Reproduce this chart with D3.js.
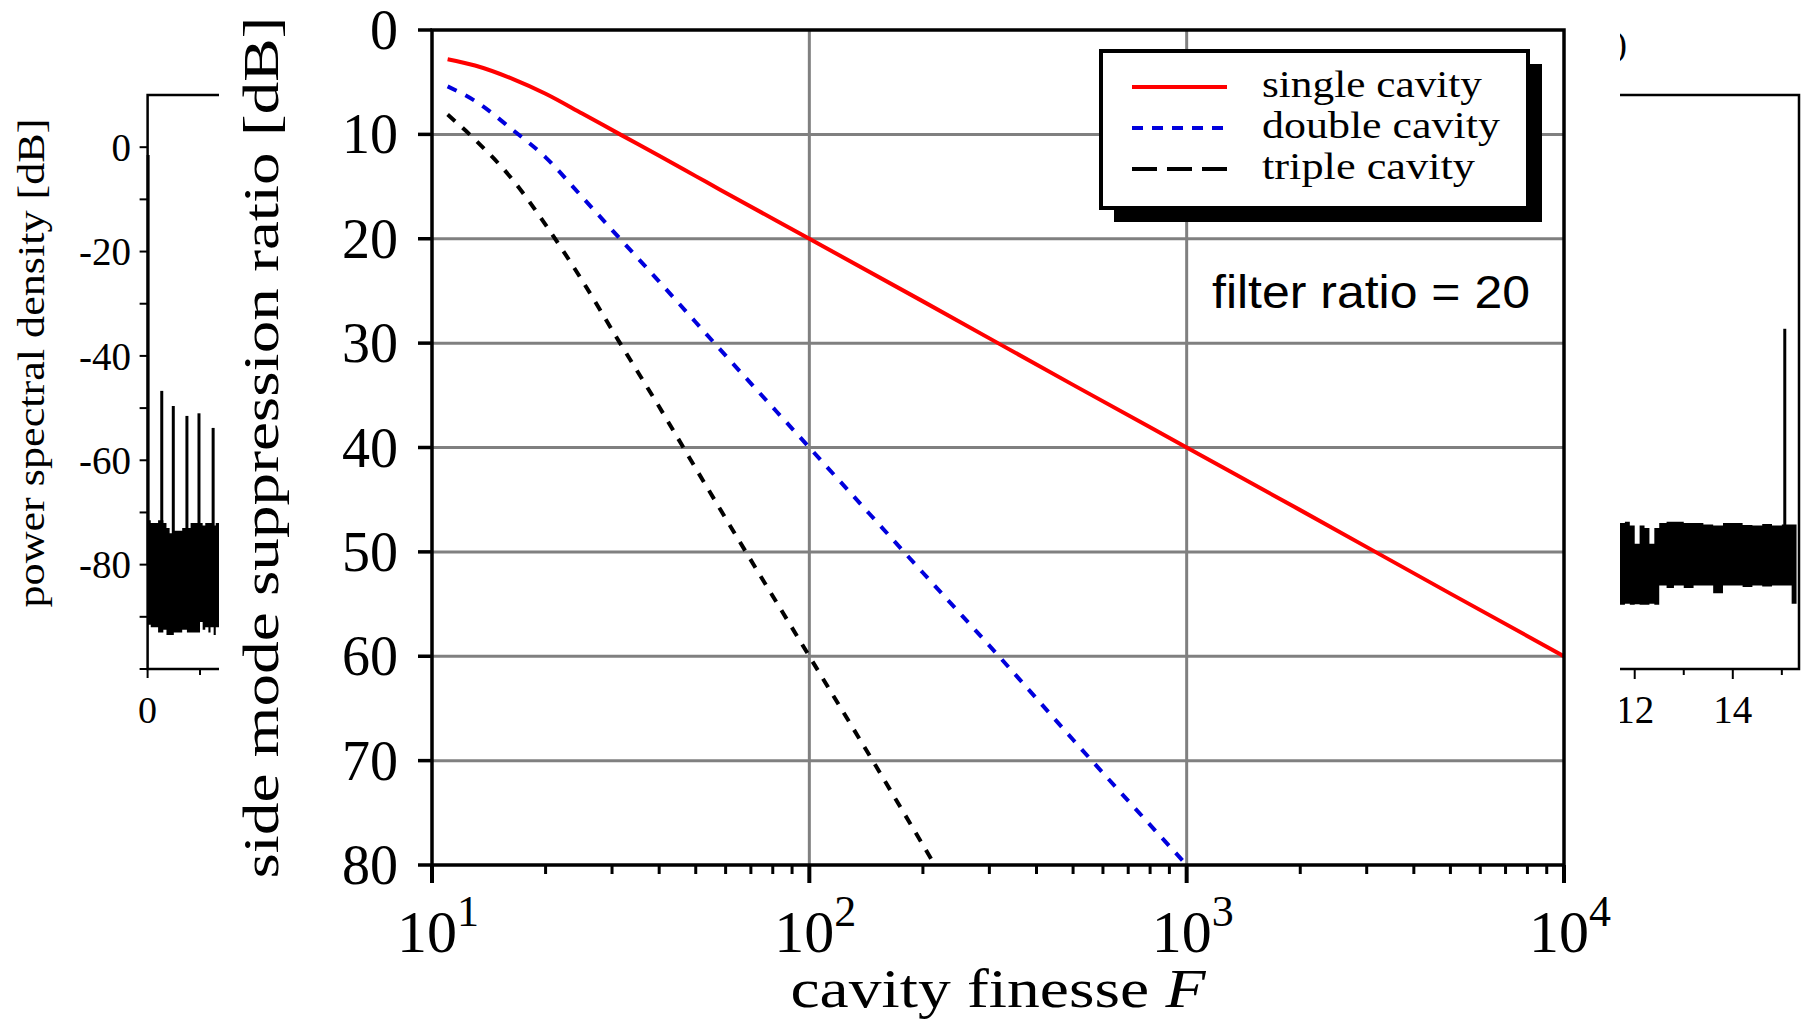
<!DOCTYPE html>
<html>
<head>
<meta charset="utf-8">
<script src="https://cdn.jsdelivr.net/npm/d3@7/dist/d3.min.js"></script>
<style>
  html, body { margin: 0; padding: 0; background: #fff; }
  svg { display: block; }
</style>
</head>
<body>
<div id="vis"></div>
<script>
// ---- main chart data ----
const singleF  = [11, 13, 16.4, 20, 25, 31.5, 40, 50, 58, 100, 200, 500, 1000, 2000, 5000, 10000];
const singleDb = [2.8, 3.4, 4.7, 6.1, 8.0, 10.0, 12.05, 14.0, 15.3, 20.0, 26.0, 34.0, 40.0, 46.0, 54.0, 60.0];

const doubleF  = [11, 13, 16.4, 20, 25, 31.5, 40, 50, 58, 100, 200, 318, 500, 1000];
const doubleDb = [5.4, 6.8, 9.6, 12.2, 16.0, 20.0, 24.1, 28.0, 30.6, 40.0, 52.0, 60.0, 68.0, 80.0];

const tripleF  = [11, 13, 16.4, 20.3, 25, 31.5, 40, 50, 58, 100, 150, 215];
const tripleDb = [8.1, 10.5, 14.4, 19.0, 24.0, 30.0, 36.1, 42.0, 45.9, 60.0, 70.5, 80.0];

const seriesNames = ["single cavity", "double cavity", "triple cavity"];
const yTickValues = [0, 10, 20, 30, 40, 50, 60, 70, 80];
const xTickValues = [10, 100, 1000, 10000];
const xTickExp = ["1", "2", "3", "4"];

// ---- background panels (power spectral density), mostly hidden ----
const psdTickValues = [0, -20, -40, -60, -80];
const psdMinorTicks = [-10, -30, -50, -70, -90, -100];
const leftSpikeX  = [0.01, 0.27, 0.49, 0.75, 0.98, 1.25];
const leftSpikeDb = [-1.5, -46.7, -49.6, -51.5, -51.0, -53.8];
const leftNoiseX      = [0.0, 0.06, 0.12, 0.2, 0.3, 0.36, 0.42, 0.5, 0.6, 0.66, 0.75, 0.82, 0.9, 1.0, 1.05, 1.1, 1.16, 1.2, 1.26, 1.3, 1.4];
const leftNoiseTop    = [-71.5, -72, -72, -71.5, -72, -73, -74, -73.5, -73.5, -73, -73, -72, -72, -72, -72.5, -72, -72, -72, -72.5, -72, -72];
const leftNoiseBottom = [-91.5, -92, -92, -93, -92.5, -93.5, -93.5, -93, -93, -92.5, -93, -93, -93, -91, -92.5, -92, -93, -92, -93.5, -92, -92];
const rightNoiseX      = [11.7, 11.8, 11.9, 12.0, 12.1, 12.2, 12.3, 12.4, 12.5, 12.65, 12.8, 13.0, 13.2, 13.4, 13.6, 13.8, 14.0, 14.2, 14.4, 14.6, 14.8, 15.0, 15.2, 15.3];
const rightNoiseTop    = [-72, -71.8, -72.5, -76, -72.5, -73, -76, -73, -72, -71.8, -71.8, -72, -72, -72.3, -72.5, -72, -72, -72.4, -72.5, -72.2, -72.5, -72.3, -72.3, -74];
const rightNoiseBottom = [-87.7, -87.5, -87.7, -87.6, -87.7, -87.7, -87.5, -87.7, -84, -84.5, -84, -84.5, -84, -84, -85.5, -84, -84, -84.3, -84, -84.2, -84, -84, -87.5, -87];
const rightSpikeX  = [15.06];
const rightSpikeDb = [-34.8];
const rightTickValues = [12, 14];
const rightMinorTicks = [13, 15];

const serif = "'Liberation Serif', 'DejaVu Serif', serif";

const svg = d3.select("#vis").append("svg")
  .attr("width", 1808)
  .attr("height", 1022)
  .style("font-family", serif);

// ================= background panel (a) =================
const psdY = d3.scaleLinear().domain([10, -100]).range([95, 669]);
const leftX = d3.scaleLinear().domain([0, 1.4]).range([147.6, 221]);
const rightX = d3.scaleLinear().domain([11.7, 15.35]).range([1620, 1799]);

const bg = svg.append("g");

const noiseArea = (sx, top, bottom) => d3.area()
  .x((d, i) => sx(d))
  .y0((d, i) => psdY(bottom[i]))
  .y1((d, i) => psdY(top[i]))
  .curve(d3.curveStepAfter);

bg.append("path")
  .datum(leftNoiseX)
  .attr("d", noiseArea(leftX, leftNoiseTop, leftNoiseBottom))
  .attr("fill", "#000");

bg.selectAll(".lspike")
  .data(leftSpikeX)
  .enter().append("line")
  .attr("x1", d => leftX(d)).attr("x2", d => leftX(d))
  .attr("y1", psdY(-80))
  .attr("y2", (d, i) => psdY(leftSpikeDb[i]))
  .attr("stroke", "#000").attr("stroke-width", 3);

// frame of panel (a)
bg.append("path")
  .attr("d", `M${leftX(1.4)},${psdY(10)}H${leftX(0)}V${psdY(-100)}H${leftX(1.4)}`)
  .attr("fill", "none").attr("stroke", "#000").attr("stroke-width", 2.5);

bg.selectAll(".lytick")
  .data(psdTickValues.concat(psdMinorTicks))
  .enter().append("line")
  .attr("x1", leftX(0) - 8).attr("x2", leftX(0))
  .attr("y1", d => psdY(d)).attr("y2", d => psdY(d))
  .attr("stroke", "#000").attr("stroke-width", 2);

bg.selectAll(".lylab")
  .data(psdTickValues)
  .enter().append("text")
  .attr("x", 131)
  .attr("y", d => psdY(d))
  .attr("dy", "0.35em")
  .attr("text-anchor", "end")
  .attr("font-size", 39)
  .text(d => d === 0 ? "0" : "-" + Math.abs(d));

bg.selectAll(".lxtick")
  .data([0, 1])
  .enter().append("line")
  .attr("x1", d => leftX(d)).attr("x2", d => leftX(d))
  .attr("y1", psdY(-100)).attr("y2", d => psdY(-100) + (d === 0 ? 9 : 6))
  .attr("stroke", "#000").attr("stroke-width", 2);

bg.append("text")
  .attr("x", leftX(0)).attr("y", 723)
  .attr("text-anchor", "middle")
  .attr("font-size", 38)
  .text("0");

bg.append("text")
  .attr("transform", "translate(44,363) rotate(-90)")
  .attr("text-anchor", "middle")
  .attr("font-size", 37)
  .attr("textLength", 489)
  .attr("lengthAdjust", "spacingAndGlyphs")
  .text("power spectral density [dB]");

// ================= background panel (b) =================
bg.append("path")
  .datum(rightNoiseX)
  .attr("d", noiseArea(rightX, rightNoiseTop, rightNoiseBottom))
  .attr("fill", "#000");

bg.selectAll(".rspike")
  .data(rightSpikeX)
  .enter().append("line")
  .attr("x1", d => rightX(d)).attr("x2", d => rightX(d))
  .attr("y1", psdY(-80))
  .attr("y2", (d, i) => psdY(rightSpikeDb[i]))
  .attr("stroke", "#000").attr("stroke-width", 3);

bg.append("path")
  .attr("d", `M${rightX(11.7)},${psdY(10)}H${rightX(15.35)}V${psdY(-100)}H${rightX(11.7)}`)
  .attr("fill", "none").attr("stroke", "#000").attr("stroke-width", 2.5);

bg.selectAll(".rxtick")
  .data(rightTickValues.concat(rightMinorTicks))
  .enter().append("line")
  .attr("x1", d => rightX(d)).attr("x2", d => rightX(d))
  .attr("y1", psdY(-100)).attr("y2", d => psdY(-100) + (d % 2 === 0 ? 10 : 6))
  .attr("stroke", "#000").attr("stroke-width", 2);

bg.selectAll(".rxlab")
  .data(rightTickValues)
  .enter().append("text")
  .attr("x", d => rightX(d)).attr("y", 723)
  .attr("text-anchor", "middle")
  .attr("font-size", 39)
  .text(d => d);

bg.append("text")
  .attr("x", 1627).attr("y", 56)
  .attr("text-anchor", "end")
  .attr("font-size", 36)
  .text("(b)");

// white sheet the main chart sits on
svg.append("rect")
  .attr("x", 219).attr("y", 0)
  .attr("width", 1620 - 219).attr("height", 1022)
  .attr("fill", "#fff");

// ================= main chart =================
const x = d3.scaleLog().domain([10, 10000]).range([432, 1564]);
const y = d3.scaleLinear().domain([0, 80]).range([30, 865]);

const main = svg.append("g");

// grid
main.selectAll(".hgrid")
  .data(yTickValues.slice(1, -1))
  .enter().append("line")
  .attr("x1", x(10)).attr("x2", x(10000))
  .attr("y1", d => y(d)).attr("y2", d => y(d))
  .attr("stroke", "#808080").attr("stroke-width", 3);

main.selectAll(".vgrid")
  .data(xTickValues.slice(1, -1))
  .enter().append("line")
  .attr("x1", d => x(d)).attr("x2", d => x(d))
  .attr("y1", y(0)).attr("y2", y(80))
  .attr("stroke", "#808080").attr("stroke-width", 3);

// curves
svg.append("clipPath").attr("id", "plotclip")
  .append("rect")
  .attr("x", x(10)).attr("y", y(0))
  .attr("width", x(10000) - x(10)).attr("height", y(80) - y(0));

const lineGen = d3.line()
  .x(d => x(d[0]))
  .y(d => y(d[1]))
  .curve(d3.curveMonotoneX);

const curves = [
  { f: singleF, db: singleDb, color: "#ff0000", dash: null },
  { f: doubleF, db: doubleDb, color: "#0000dd", dash: "10,10" },
  { f: tripleF, db: tripleDb, color: "#000000", dash: "10,10" }
];

main.append("g")
  .attr("clip-path", "url(#plotclip)")
  .selectAll("path")
  .data(curves)
  .enter().append("path")
  .attr("d", d => lineGen(d.f.map((v, i) => [v, d.db[i]])))
  .attr("fill", "none")
  .attr("stroke", d => d.color)
  .attr("stroke-width", 4)
  .attr("stroke-dasharray", d => d.dash);

// frame
main.append("rect")
  .attr("x", x(10)).attr("y", y(0))
  .attr("width", x(10000) - x(10)).attr("height", y(80) - y(0))
  .attr("fill", "none").attr("stroke", "#000").attr("stroke-width", 3.5);

// y ticks and labels
main.selectAll(".ytick")
  .data(yTickValues)
  .enter().append("line")
  .attr("x1", x(10) - 14).attr("x2", x(10))
  .attr("y1", d => y(d)).attr("y2", d => y(d))
  .attr("stroke", "#000").attr("stroke-width", 3.5);

main.selectAll(".ylab")
  .data(yTickValues)
  .enter().append("text")
  .attr("x", 398)
  .attr("y", d => y(d))
  .attr("dy", "0.34em")
  .attr("text-anchor", "end")
  .attr("font-size", 56)
  .text(d => d);

// x ticks (major + log minor)
const minorTicks = [];
xTickValues.slice(0, -1).forEach(dec => {
  for (let k = 2; k <= 9; k++) minorTicks.push(dec * k);
});

main.selectAll(".xminor")
  .data(minorTicks)
  .enter().append("line")
  .attr("x1", d => x(d)).attr("x2", d => x(d))
  .attr("y1", y(80)).attr("y2", y(80) + 9)
  .attr("stroke", "#000").attr("stroke-width", 3);

main.selectAll(".xmajor")
  .data(xTickValues)
  .enter().append("line")
  .attr("x1", d => x(d)).attr("x2", d => x(d))
  .attr("y1", y(80)).attr("y2", y(80) + 18)
  .attr("stroke", "#000").attr("stroke-width", 4);

const xlab = main.selectAll(".xlab")
  .data(xTickValues)
  .enter().append("text")
  .attr("x", d => x(d) + 6)
  .attr("y", 952)
  .attr("text-anchor", "middle")
  .attr("font-size", 60);
xlab.append("tspan").text("10");
xlab.append("tspan")
  .attr("font-size", 44)
  .attr("dy", -26)
  .text((d, i) => xTickExp[i]);

// axis titles
const xt = main.append("text")
  .attr("x", (x(10) + x(10000)) / 2)
  .attr("y", 1007)
  .attr("text-anchor", "middle")
  .attr("font-size", 54)
  .attr("textLength", 415)
  .attr("lengthAdjust", "spacingAndGlyphs");
xt.append("tspan").text("cavity finesse ");
xt.append("tspan").attr("font-style", "italic").text("F");

main.append("text")
  .attr("transform", `translate(278,${(y(0) + y(80)) / 2}) rotate(-90)`)
  .attr("text-anchor", "middle")
  .attr("font-size", 50)
  .attr("textLength", 862)
  .attr("lengthAdjust", "spacingAndGlyphs")
  .text("side mode suppression ratio [dB]");

// annotation
main.append("text")
  .attr("x", 1530).attr("y", 308)
  .attr("text-anchor", "end")
  .attr("font-family", "'Liberation Sans', Arial, sans-serif")
  .attr("font-size", 46)
  .attr("textLength", 318)
  .attr("lengthAdjust", "spacingAndGlyphs")
  .text("filter ratio = 20");

// legend
const legend = main.append("g");
legend.append("rect")
  .attr("x", 1114).attr("y", 64)
  .attr("width", 428).attr("height", 158)
  .attr("fill", "#000");
legend.append("rect")
  .attr("x", 1101).attr("y", 51)
  .attr("width", 427).attr("height", 157)
  .attr("fill", "#fff").attr("stroke", "#000").attr("stroke-width", 4);

const legendDash = [null, "11,9", "25,10"];
const legendWidths = [220, 238, 213];
const legendRows = legend.selectAll(".lrow")
  .data(seriesNames)
  .enter().append("g")
  .attr("transform", (d, i) => `translate(0,${87 + i * 41})`);

legendRows.append("line")
  .attr("x1", 1132).attr("x2", 1227)
  .attr("y1", 0).attr("y2", 0)
  .attr("stroke", (d, i) => curves[i].color)
  .attr("stroke-width", 4)
  .attr("stroke-dasharray", (d, i) => legendDash[i]);

legendRows.append("text")
  .attr("x", 1262).attr("y", 10)
  .attr("font-size", 38)
  .attr("textLength", (d, i) => legendWidths[i])
  .attr("lengthAdjust", "spacingAndGlyphs")
  .text(d => d);
</script>
</body>
</html>
